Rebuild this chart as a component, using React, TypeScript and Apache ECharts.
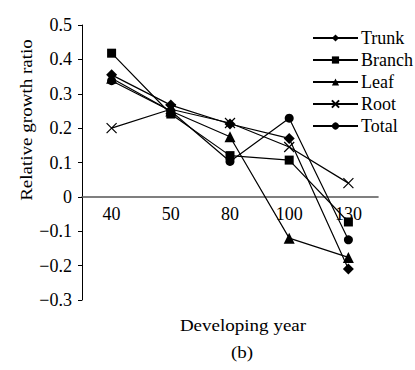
import React, { useEffect, useRef } from "react";
import * as echarts from "echarts";

const years = ["40", "50", "80", "100", "130"];
const trunk = [0.355, 0.267, 0.212, 0.17, -0.21];
const branch = [0.418, 0.241, 0.12, 0.107, -0.073];
const leaf = [0.345, 0.25, 0.175, -0.12, -0.176];
const root = [0.2, 0.255, 0.215, 0.145, 0.04];
const total = [0.338, 0.25, 0.103, 0.229, -0.125];
const seriesNames = ["Trunk", "Branch", "Leaf", "Root", "Total"];

const FONT = "Liberation Serif";
const CROSS = "path://M0,0L10,10M10,0L0,10";
const Y_MIN = -0.3;
const Y_MAX = 0.5;
const GRID_TOP = 25;
const GRID_BOTTOM = 70;
const CHART_H = 370;

export default function App() {
  const ref = useRef<HTMLDivElement>(null);
  useEffect(() => {
    if (!ref.current) return;
    const chart = echarts.init(ref.current, undefined, { renderer: "svg" });
    const gridH = CHART_H - GRID_TOP - GRID_BOTTOM;
    const zeroOffset = (gridH * (0 - Y_MIN)) / (Y_MAX - Y_MIN);
    const mk = (name: string, data: number[], symbol: string, size: number) => ({
      name,
      type: "line",
      data,
      symbol,
      symbolSize: size,
      lineStyle: { color: "#000", width: 1.2 },
      itemStyle: { color: "#000", borderColor: "#000", borderWidth: symbol === CROSS ? 1.2 : 0 },
      emphasis: { disabled: true },
    });
    const titleStyle = {
      fontFamily: FONT,
      fontSize: 17,
      fill: "#000",
      align: "center",
      verticalAlign: "middle",
    };
    chart.setOption({
      animation: false,
      textStyle: { fontFamily: FONT },
      grid: { left: 82, top: GRID_TOP, right: 37, bottom: GRID_BOTTOM },
      legend: {
        orient: "vertical",
        left: 312,
        top: 29,
        padding: 0,
        itemWidth: 45,
        itemHeight: 9,
        itemGap: 4,
        textStyle: { fontFamily: FONT, fontSize: 18, color: "#000", padding: [0, 0, 0, -2] },
        data: seriesNames,
      },
      xAxis: {
        type: "category",
        data: years,
        boundaryGap: true,
        position: "bottom",
        offset: -zeroOffset,
        axisLine: { onZero: false, lineStyle: { color: "#555", width: 1.6 } },
        axisTick: { inside: true, length: 4, lineStyle: { color: "#000" } },
        axisLabel: { color: "#000", fontSize: 18, fontFamily: FONT, margin: 8 },
        splitLine: { show: false },
      },
      yAxis: {
        type: "value",
        min: Y_MIN,
        max: Y_MAX,
        interval: 0.1,
        axisLine: { show: true, lineStyle: { color: "#000", width: 1 } },
        axisTick: { show: true, length: 4, lineStyle: { color: "#000" } },
        axisLabel: {
          color: "#000",
          fontSize: 18,
          fontFamily: FONT,
          margin: 10,
          formatter: (v: number) => (Math.abs(v) < 1e-9 ? "0" : v.toFixed(1).replace("-", "\u2212")),
        },
        splitLine: { show: false },
      },
      graphic: [
        {
          type: "text",
          x: 26,
          y: 120,
          rotation: Math.PI / 2,
          scaleX: 1.12,
          style: { ...titleStyle, text: "Relative growth ratio" },
        },
        {
          type: "text",
          x: 243,
          y: 325,
          scaleX: 1.12,
          style: { ...titleStyle, text: "Developing year" },
        },
        {
          type: "text",
          x: 242,
          y: 352,
          scaleX: 1.12,
          style: { ...titleStyle, text: "(b)" },
        },
      ],
      series: [
        mk("Trunk", trunk, "diamond", 11),
        mk("Branch", branch, "rect", 9),
        mk("Leaf", leaf, "triangle", 11),
        mk("Root", root, CROSS, 10),
        mk("Total", total, "circle", 9),
      ],
    });
    return () => chart.dispose();
  }, []);
  return (
    <div
      ref={ref}
      style={{ position: "fixed", left: 0, top: 0, width: 415, height: 370, background: "#fff" }}
    />
  );
}
